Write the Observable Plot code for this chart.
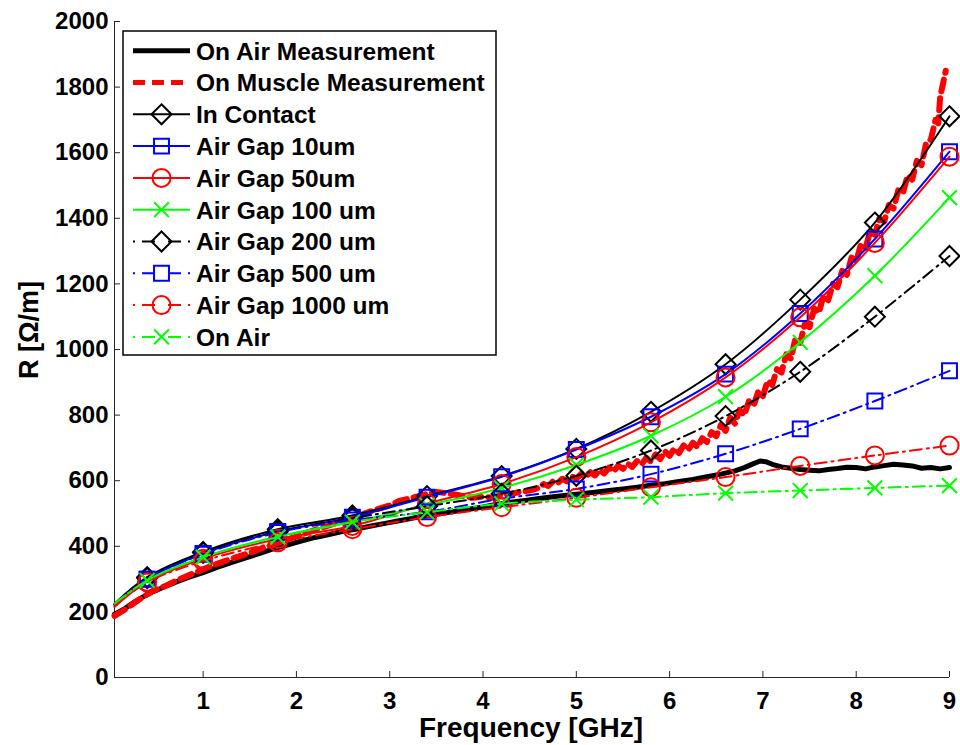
<!DOCTYPE html>
<html><head><meta charset="utf-8">
<script src="https://cdn.jsdelivr.net/npm/d3@7"></script>
<script src="https://cdn.jsdelivr.net/npm/@observablehq/plot@0.6"></script>
<style>
body{margin:0;background:#fff;}
#chart{position:relative;width:960px;height:745px;}
</style>
</head><body><div id="chart"></div>
<script>
// ---------- data ----------
const xMin = 0.05, xMax = 9;
const xTicks = [1, 2, 3, 4, 5, 6, 7, 8, 9];
const yTicks = [0, 200, 400, 600, 800, 1000, 1200, 1400, 1600, 1800, 2000];
const xLabel = "Frequency [GHz]";
const yLabel = "R [Ω/m]";

// model curves: first point is the start of the line (no marker), the rest carry markers
const modelFreq = [0.05, 0.4, 1.0, 1.8, 2.6, 3.4, 4.2, 5.0, 5.8, 6.6, 7.4, 8.2, 9.0];
const inContact = [225, 306, 383, 452, 494, 553, 614, 697, 810, 955, 1152, 1387, 1711];
const gap10     = [222, 300, 378, 445, 489, 550, 612, 695, 795, 925, 1110, 1337, 1603];
const gap50     = [215, 292, 362, 422, 462, 530, 590, 672, 778, 915, 1098, 1325, 1588];
const gap100    = [222, 296, 367, 430, 474, 525, 578, 648, 737, 856, 1022, 1225, 1463];
const gap200    = [222, 303, 380, 445, 486, 522, 560, 615, 692, 797, 932, 1100, 1285];
const gap500    = [222, 300, 376, 442, 480, 505, 545, 575, 620, 682, 758, 843, 935];
const gap1000   = [218, 290, 355, 412, 452, 489, 519, 548, 580, 611, 645, 677, 707];
const onAirSim  = [225, 296, 367, 428, 474, 504, 530, 542, 550, 562, 570, 578, 585];

// measured traces
const airMeasFreq = [0.05,0.15,0.25,0.35,0.45,0.55,0.7,0.85,1.0,1.15,1.3,1.45,1.6,1.75,1.9,2.05,2.2,2.35,2.5,2.65,2.8,2.95,3.1,3.25,3.4,3.55,3.7,3.85,4.0,4.15,4.3,4.45,4.6,4.75,4.9,5.05,5.2,5.35,5.5,5.65,5.8,5.95,6.1,6.25,6.4,6.55,6.7,6.8,6.9,6.97,7.03,7.1,7.2,7.3,7.4,7.5,7.6,7.7,7.8,7.9,8.0,8.1,8.2,8.3,8.4,8.5,8.6,8.7,8.8,8.9,9.0];
const airMeasR    = [193,208,228,245,260,272,290,306,320,336,350,364,378,392,404,416,427,436,446,453,462,470,478,486,493,500,507,513,520,528,534,540,546,551,556,560,565,570,575,580,586,591,598,604,612,620,630,640,652,660,658,650,642,638,634,632,630,634,637,641,640,636,642,646,650,648,645,638,640,636,640];

const muscleFreq = [0.05,0.15,0.25,0.35,0.45,0.6,0.75,0.9,1.05,1.2,1.35,1.5,1.65,1.8,1.95,2.1,2.25,2.4,2.55,2.7,2.85,3.0,3.1,3.2,3.3,3.4,3.5,3.6,3.7,3.8,3.9,4.0,4.1,4.2,4.3,4.4,4.5,
  4.6,4.65,4.7,4.75,4.8,4.85,4.9,4.95,5.0,5.05,5.1,5.15,5.2,5.25,5.3,5.35,5.4,5.45,5.5,5.55,5.6,5.65,5.7,5.75,5.8,5.85,5.9,5.95,6.0,6.05,6.1,6.15,6.2,6.25,6.3,6.35,6.4,6.45,6.5,6.55,6.6,6.65,6.7,6.75,6.8,6.85,6.9,6.95,7.0,7.05,7.1,7.15,7.2,7.25,7.3,7.35,7.4,7.45,7.5,7.55,7.6,7.65,7.7,7.75,7.8,7.85,7.9,7.95,8.0,8.05,8.1,8.15,8.2,8.25,8.3,8.35,8.4,8.45,8.5,8.55,8.6,8.65,8.7,8.75,8.8,8.85,8.88,8.9,8.93,8.96];
const muscleR    = [188,205,225,244,262,280,300,318,336,352,366,380,396,410,425,440,455,468,482,497,512,525,538,545,552,560,566,562,558,552,548,552,548,556,560,566,570,
  578,590,584,598,592,606,598,614,606,620,612,626,616,632,622,640,628,646,636,652,642,660,650,670,658,680,666,690,676,698,684,708,694,716,702,730,718,748,736,770,752,792,774,816,800,842,828,872,858,904,892,940,930,985,972,1035,1020,1078,1068,1125,1112,1165,1150,1200,1190,1240,1228,1280,1268,1320,1310,1360,1350,1400,1390,1440,1430,1485,1475,1530,1518,1575,1562,1630,1640,1700,1690,1770,1810,1850];

const legendLabels = ["On Air Measurement","On Muscle Measurement","In Contact","Air Gap 10um","Air Gap 50um","Air Gap 100 um","Air Gap 200 um","Air Gap 500 um","Air Gap 1000 um","On Air"];

// ---------- styles ----------
const FONT = "'Liberation Sans', Arial, Helvetica, sans-serif";
const BLACK = "#000000", BLUE = "#0000ff", RED = "#ff0000", GREEN = "#00ff00";
const DASHDOT = "12,5,2,5";
const models = [
  {values: inContact, color: BLACK, dash: null,    symbol: "diamond2", r: 9},
  {values: gap10,     color: BLUE,  dash: null,    symbol: "square2",  r: 9.5},
  {values: gap50,     color: RED,   dash: null,    symbol: "circle",   r: 9},
  {values: gap100,    color: GREEN, dash: null,    symbol: "times",    r: 6.8},
  {values: gap200,    color: BLACK, dash: DASHDOT, symbol: "diamond2", r: 9},
  {values: gap500,    color: BLUE,  dash: DASHDOT, symbol: "square2",  r: 9.5},
  {values: gap1000,   color: RED,   dash: DASHDOT, symbol: "circle",   r: 9},
  {values: onAirSim,  color: GREEN, dash: DASHDOT, symbol: "times",    r: 6.8}
];

// ---------- marks ----------
const airMeas = airMeasFreq.map((f, i) => ({f, r: airMeasR[i]}));
const muscleMeas = muscleFreq.map((f, i) => ({f, r: muscleR[i]}));

const marks = [
  Plot.ruleX([xMin], {stroke: "#262626", strokeWidth: 1}),
  Plot.ruleY([0], {stroke: "#262626", strokeWidth: 1}),
  Plot.axisX({ticks: xTicks, tickSize: -6, tickPadding: 20, tickFormat: d => String(d), label: null,
    fontSize: 24, fontWeight: "bold", fill: "#000", stroke: "#262626"}),
  Plot.axisY({ticks: yTicks, tickSize: -6, tickPadding: 12, tickFormat: d => String(d), label: null,
    fontSize: 24, fontWeight: "bold", fill: "#000", stroke: "#262626"}),
  Plot.line(airMeas, {x: "f", y: "r", stroke: BLACK, strokeWidth: 5, strokeLinejoin: "round"}),
  Plot.line(muscleMeas, {x: "f", y: "r", stroke: RED, strokeWidth: 6, strokeDasharray: "12,7"})
];
models.forEach(m => {
  const rows = modelFreq.map((f, i) => ({f, r: m.values[i], i}));
  marks.push(Plot.line(rows, {x: "f", y: "r", stroke: m.color, strokeWidth: 2,
    strokeDasharray: m.dash, curve: "catmull-rom"}));
  marks.push(Plot.dot(rows.filter(d => d.i > 0), {x: "f", y: "r", symbol: m.symbol, r: m.r,
    stroke: m.color, strokeWidth: 2, fill: "none"}));
});

const chart = Plot.plot({
  width: 960, height: 745,
  marginLeft: 114, marginRight: 11, marginTop: 21, marginBottom: 68,
  style: {fontFamily: FONT, fontSize: "24px", fontWeight: "bold", background: "#fff", color: "#000"},
  x: {domain: [xMin, xMax]},
  y: {domain: [0, 2000]},
  marks
});
document.getElementById("chart").appendChild(chart);

// ---------- axis labels ----------
const svg = d3.select(chart);
svg.append("text").attr("x", 531).attr("y", 737).attr("text-anchor", "middle")
  .attr("font-family", FONT).attr("font-size", 28).attr("font-weight", "bold").attr("fill", "#000")
  .text(xLabel);
svg.append("text").attr("transform", "translate(38,330) rotate(-90)").attr("text-anchor", "middle")
  .attr("font-family", FONT).attr("font-size", 27).attr("font-weight", "bold").attr("fill", "#000")
  .text(yLabel);

// ---------- legend ----------
const lg = svg.append("g").attr("text-anchor", "start");
lg.append("rect").attr("x", 123).attr("y", 31).attr("width", 373).attr("height", 324)
  .attr("fill", "#fff").attr("stroke", "#000").attr("stroke-width", 1.5);
const legendStyles = [
  {color: BLACK, width: 5, dash: null, symbol: null},
  {color: RED, width: 5, dash: "12,7", symbol: null},
  ...models.map(m => ({color: m.color, width: 2, dash: m.dash ? "2,7,13,13,13,7,2,60" : null, symbol: m.symbol, r: m.r}))
];
const symMap = {diamond2: d3.symbolDiamond2, square2: d3.symbolSquare2, times: d3.symbolTimes};
legendLabels.forEach((label, i) => {
  const cy = 50.7 + i * 31.8;
  const st = legendStyles[i];
  lg.append("line").attr("x1", 133).attr("x2", 190).attr("y1", cy).attr("y2", cy)
    .attr("stroke", st.color).attr("stroke-width", st.width)
    .attr("stroke-dasharray", st.dash);
  if (st.symbol === "circle") {
    lg.append("circle").attr("cx", 161.5).attr("cy", cy).attr("r", st.r)
      .attr("fill", "none").attr("stroke", st.color).attr("stroke-width", 2);
  } else if (st.symbol) {
    lg.append("path").attr("transform", `translate(161.5,${cy})`)
      .attr("d", d3.symbol(symMap[st.symbol], Math.PI * st.r * st.r)())
      .attr("fill", "none").attr("stroke", st.color).attr("stroke-width", 2);
  }
  lg.append("text").attr("x", 196).attr("y", cy).attr("dy", "0.36em").attr("text-anchor", "start")
    .attr("font-family", FONT).attr("font-size", 24.5).attr("font-weight", "bold").attr("fill", "#000")
    .text(label);
});
</script>
</body></html>
